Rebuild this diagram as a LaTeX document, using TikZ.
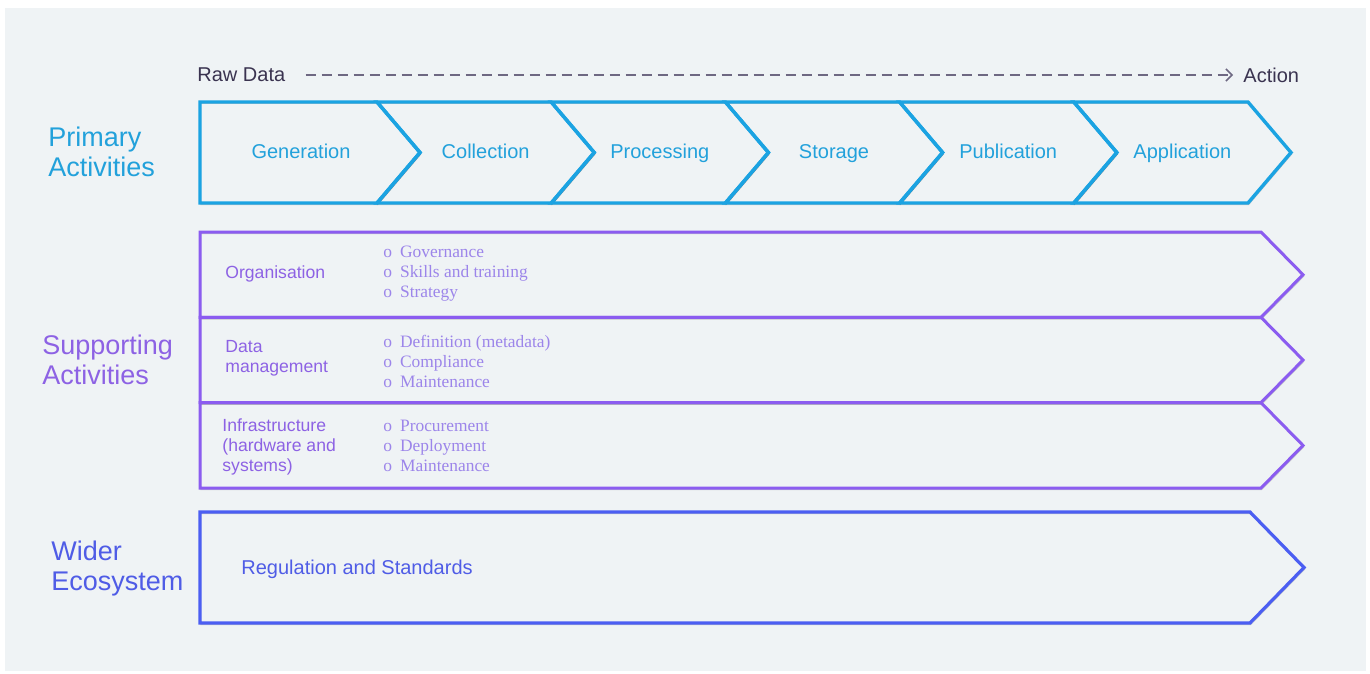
\documentclass[tikz,border=0pt]{standalone}
\usepackage{fontspec}
\setmainfont{Liberation Sans}
\newfontfamily\itemfont{Liberation Serif}
\usetikzlibrary{arrows.meta,calc}

\definecolor{bgpanel}{HTML}{EFF3F5}
\definecolor{primline}{HTML}{1BA3E2}
\definecolor{primtext}{HTML}{22A1DB}
\definecolor{suppline}{HTML}{8B5CF0}
\definecolor{supptext}{HTML}{8D62E4}
\definecolor{suppitem}{HTML}{9C85EA}
\definecolor{widerline}{HTML}{4B5EF2}
\definecolor{widertext}{HTML}{4F5CE6}
\definecolor{flowtext}{HTML}{3A3350}
\definecolor{flowline}{HTML}{6E6882}

\newcommand{\itm}{o\hspace{4pt}}

\tikzset{
   shadowed/.style={preaction={draw=black, draw opacity=0.18,
      transform canvas={xshift=0.4pt, yshift=-0.8pt}}},
   stage/.style={shadowed, draw=primline, line width=1.7pt, line join=miter},
   stage label/.style={anchor=base, font=\fontsize{10}{12}\selectfont, text=primtext},
   support row/.style={shadowed, draw=suppline, line width=1.5pt, line join=miter},
   wider row/.style={shadowed, draw=widerline, line width=1.6pt, line join=miter},
   group title/.style={anchor=west, align=left, inner sep=0pt,
      font=\fontsize{13.5}{15}\selectfont},
   row label/.style={anchor=west, align=left, inner sep=0pt,
      font=\fontsize{8.8}{10}\selectfont, text=supptext},
   item list/.style={anchor=west, align=left, inner sep=0pt,
      font=\itemfont\fontsize{8.7}{10}\selectfont, text=suppitem},
   flow end/.style={anchor=west, inner sep=0pt,
      font=\fontsize{10}{12}\selectfont, text=flowtext},
   flow/.style={draw=flowline, line width=0.8pt, dash pattern=on 5pt off 3pt,
      -{Straight Barb[length=3pt,width=6pt]}}
}

\begin{document}
\begin{tikzpicture}[x=0.5pt, y=-0.5pt]
    \useasboundingbox (0,0) rectangle (1370,674);
    % panel behind everything
    \fill[bgpanel] (5,8) rectangle (1366,671);

    % Raw Data --> Action
    \node[flow end] (raw) at (197,75) {Raw Data};
    \node[flow end] (action) at (1243,75) {Action};
    \draw[flow, shorten <=10pt, shorten >=5pt] (raw.east) -- (action.west);

    % Primary activities: one chevron per stage
    \node[group title, text=primtext] (primary) at (48,152) {Primary\\Activities};
    \foreach \name/\lab [count=\i from 0] in {gen/Generation, col/Collection,
          pro/Processing, sto/Storage, pub/Publication, app/Application} {
       \pgfmathsetmacro{\xr}{377+174.2*\i}
       \pgfmathsetmacro{\xl}{\xr-174.2}
       \ifnum\i=0
          \draw[stage] (200,102) -- (\xr,102) -- (\xr+43,152.5) -- (\xr,203)
             -- (200,203) -- cycle;
          \node[stage label] (\name) at (301,158.5) {\lab};
       \else
          \draw[stage] (\xl,102) -- (\xr,102) -- (\xr+43,152.5) -- (\xr,203)
             -- (\xl,203) -- (\xl+43,152.5) -- cycle;
          \node[stage label] (\name) at ({(\xl+43+\xr)/2},158.5) {\lab};
       \fi
    }

    % Supporting activities: three stacked rows
    \node[group title, text=supptext] (supporting) at (42,360) {Supporting\\Activities};
    \foreach \top in {232, 317.3, 402.7} {
       \draw[support row] (200,\top) -- (1261,\top) -- (1303,\top+42.7)
          -- (1261,\top+85.3) -- (200,\top+85.3) -- cycle;
    }
    \node[row label] (orglab) at (225,274) {Organisation};
    \node[row label] (datlab) at (225,358) {Data\\management};
    \node[row label] (inflab) at (222,447) {Infrastructure\\(hardware and\\systems)};
    \node[item list] (orgitems) at (383,273.5) {\itm Governance\\\itm Skills and training\\\itm Strategy};
    \node[item list] (datitems) at (383,361) {\itm Definition (metadata)\\\itm Compliance\\\itm Maintenance};
    \node[item list] (infitems) at (383,446) {\itm Procurement\\\itm Deployment\\\itm Maintenance};

    % Wider ecosystem
    \node[group title, text=widertext] (wider) at (51,569) {Wider\\Ecosystem};
    \draw[wider row] (200,512) -- (1250,512) -- (1304,567.5) -- (1250,623)
       -- (200,623) -- cycle;
    \node[anchor=west, inner sep=0pt, font=\fontsize{10}{12}\selectfont,
       text=widertext] (reg) at (241,569) {Regulation and Standards};
\end{tikzpicture}
\end{document}
